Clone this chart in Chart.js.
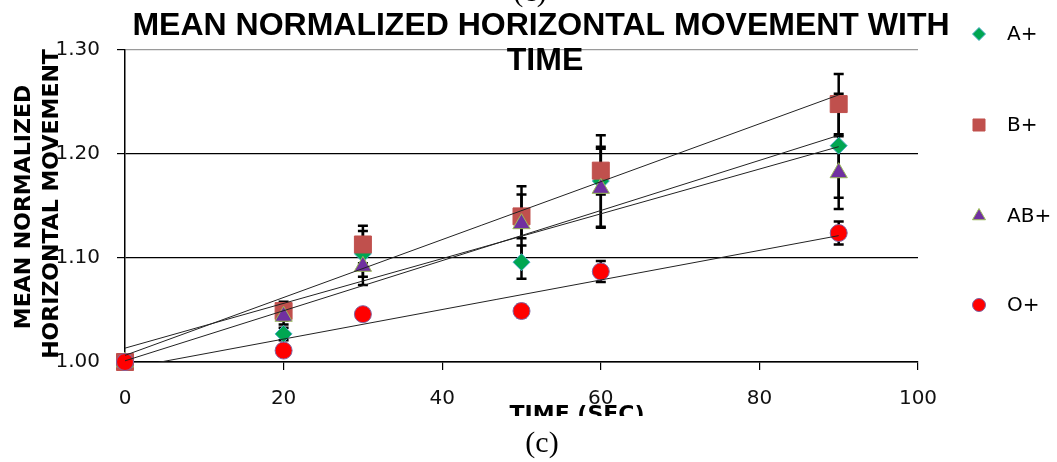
<!DOCTYPE html>
<html>
<head>
<meta charset="utf-8">
<script src="https://cdn.jsdelivr.net/npm/chart.js@4.4.1/dist/chart.umd.min.js"></script>
<style>
  html, body { margin: 0; padding: 0; background: #fff; }
  #wrap { position: relative; width: 1057px; height: 462px; }
</style>
</head>
<body>
<div id="wrap"><canvas id="moveChart"></canvas></div>
<script>
  // time points (sec)
  const times = [0, 20, 30, 50, 60, 90];

  // mean normalized horizontal movement per blood group
  const aPos  = [1.000, 1.027, 1.104, 1.096, 1.174, 1.208];
  const bPos  = [1.000, 1.049, 1.113, 1.140, 1.184, 1.248];
  const abPos = [1.000, 1.044, 1.092, 1.133, 1.167, 1.182];
  const oPos  = [1.000, 1.011, 1.046, 1.049, 1.087, 1.124];

  // error bar half-heights
  const aErr  = [0, 0.006, 0.022, 0.016, 0.044, 0.050];
  const bErr  = [0, 0.009, 0.018, 0.021, 0.023, 0.029];
  const abErr = [0, 0.008, 0.018, 0.036, 0.038, 0.035];
  const oErr  = [0, 0, 0, 0.006, 0.010, 0.011];

  const groupNames = ['A+', 'B+', 'AB+', 'O+'];
  const xTicks = [0, 20, 40, 60, 80, 100];
  const yTicks = [1.00, 1.10, 1.20, 1.30];

  const series = [
    { name: groupNames[0], y: aPos,  err: aErr,  style: 'rectRot',  r: 8.5, fill: '#00a651', line: '#4bacc6', lr: 6.5 },
    { name: groupNames[1], y: bPos,  err: bErr,  style: 'rect',     r: 12,  fill: '#c0504d', line: '#c0504d', lr: 8.5 },
    { name: groupNames[2], y: abPos, err: abErr, style: 'triangle', r: 10,  fill: '#7030a0', line: '#9bbb59', lr: 7.5 },
    { name: groupNames[3], y: oPos,  err: oErr,  style: 'circle',   r: 8.5, fill: '#ff0000', line: '#8064a2', lr: 6.5 }
  ];

  // least squares line over the points of one group
  function fitLine(xs, ys) {
    const n = xs.length;
    const mx = xs.reduce((s, v) => s + v, 0) / n;
    const my = ys.reduce((s, v) => s + v, 0) / n;
    let sxy = 0, sxx = 0;
    for (let i = 0; i < n; i++) {
      sxy += (xs[i] - mx) * (ys[i] - my);
      sxx += (xs[i] - mx) * (xs[i] - mx);
    }
    const slope = sxy / sxx;
    return { slope: slope, icpt: my - slope * mx };
  }

  const datasets = [];
  series.forEach((s, i) => {
    datasets.push({
      type: 'scatter',
      label: s.name,
      data: times.map((t, k) => ({ x: t, y: s.y[k] })),
      errors: s.err,
      pointStyle: s.style,
      pointRadius: s.r,
      pointHoverRadius: s.r,
      backgroundColor: s.fill,
      borderColor: s.line,
      borderWidth: 1,
      clip: false,
      order: 4 - i
    });
  });
  series.forEach(s => {
    const f = fitLine(times, s.y);
    const x0 = times[0], x1 = times[times.length - 1];
    datasets.push({
      type: 'line',
      label: s.name + ' fit',
      data: [{ x: x0, y: f.icpt + f.slope * x0 }, { x: x1, y: f.icpt + f.slope * x1 }],
      borderColor: '#222',
      borderWidth: 1,
      pointRadius: 0,
      fill: false,
      order: 0
    });
  });

  // vertical error bars with caps, under the markers
  const errorBars = {
    id: 'errorBars',
    beforeDatasetsDraw(chart) {
      const ctx = chart.ctx;
      const ys = chart.scales.y, xs = chart.scales.x;
      ctx.save();
      ctx.strokeStyle = '#000';
      ctx.lineWidth = 2.5;
      chart.data.datasets.forEach(ds => {
        if (!ds.errors) return;
        ds.data.forEach((p, k) => {
          const e = ds.errors[k];
          if (!e) return;
          const px = xs.getPixelForValue(p.x);
          const top = ys.getPixelForValue(p.y + e);
          const bot = ys.getPixelForValue(p.y - e);
          ctx.beginPath();
          ctx.moveTo(px, top); ctx.lineTo(px, bot);
          ctx.moveTo(px - 5, top); ctx.lineTo(px + 5, top);
          ctx.moveTo(px - 5, bot); ctx.lineTo(px + 5, bot);
          ctx.stroke();
        });
      });
      ctx.restore();
    }
  };

  // titles, caption and legend
  const labelsPlugin = {
    id: 'labels',
    afterDraw(chart) {
      const ctx = chart.ctx;
      ctx.save();
      ctx.fillStyle = '#000';
      ctx.textAlign = 'center';

      ctx.font = 'bold 32px "Liberation Sans", Arial, sans-serif';
      ctx.textBaseline = 'alphabetic';
      ctx.fillText('MEAN NORMALIZED HORIZONTAL MOVEMENT WITH', 541, 35);
      ctx.fillText('TIME', 545, 70);

      ctx.font = 'bold 22px "DejaVu Sans", sans-serif';
      ctx.textBaseline = 'middle';
      ctx.save();
      ctx.translate(24, 207);
      ctx.rotate(-Math.PI / 2);
      ctx.fillText('MEAN NORMALIZED', 0, 0);
      ctx.restore();
      ctx.save();
      ctx.translate(52, 204);
      ctx.rotate(-Math.PI / 2);
      ctx.fillText('HORIZONTAL MOVEMENT', 0, 0);
      ctx.restore();

      // axis title is cut off by the caption strip
      ctx.save();
      ctx.beginPath();
      ctx.rect(0, 0, 1057, 416);
      ctx.clip();
      ctx.textBaseline = 'alphabetic';
      ctx.fillText('TIME (SEC)', 577, 421);
      ctx.restore();

      ctx.font = '30px "Liberation Serif", "Times New Roman", serif';
      ctx.textBaseline = 'alphabetic';
      ctx.fillText('(c)', 542, 452);
      ctx.fillText('(c)', 530, 1);

      // legend
      const legendY = [34, 125, 216, 305];
      ctx.font = '20px "DejaVu Sans", sans-serif';
      ctx.textAlign = 'left';
      ctx.textBaseline = 'middle';
      series.forEach((s, i) => {
        ctx.fillStyle = s.fill;
        ctx.strokeStyle = s.line;
        ctx.lineWidth = 1;
        Chart.helpers.drawPoint(ctx, { pointStyle: s.style, radius: s.lr, rotation: 0, borderWidth: 1 }, 979, legendY[i]);
        ctx.fillStyle = '#000';
        ctx.fillText(s.name, 1007, legendY[i] + 1);
      });
      ctx.restore();
    }
  };

  Chart.defaults.font.family = '"DejaVu Sans", sans-serif';
  Chart.defaults.color = '#111';

  new Chart(document.getElementById('moveChart'), {
    type: 'scatter',
    data: { datasets: datasets },
    options: {
      responsive: true,
      maintainAspectRatio: false,
      animation: false,
      layout: { padding: { left: 0, right: 139, top: 50, bottom: 0 } },
      plugins: {
        legend: { display: false },
        title: { display: false },
        tooltip: { enabled: false }
      },
      scales: {
        x: {
          type: 'linear',
          min: xTicks[0],
          max: xTicks[xTicks.length - 1],
          afterBuildTicks: scale => { scale.ticks = xTicks.map(v => ({ value: v })); },
          afterFit: scale => { scale.height = 100; },
          border: { color: '#000', width: 1.5 },
          grid: { drawOnChartArea: false, drawTicks: true, tickLength: 8, color: '#000', lineWidth: 1.2 },
          ticks: { font: { size: 20 }, padding: 17, maxRotation: 0 }
        },
        y: {
          type: 'linear',
          min: yTicks[0],
          max: yTicks[yTicks.length - 1],
          afterBuildTicks: scale => { scale.ticks = yTicks.map(v => ({ value: v })); },
          afterFit: scale => { scale.width = 125; },
          border: { color: '#000', width: 1.5 },
          grid: {
            drawTicks: true,
            tickLength: 8,
            color: ctx => (ctx.tick && ctx.tick.value >= 1.295 ? '#9a9a9a' : '#000'),
            tickColor: '#000',
            lineWidth: 1.2
          },
          ticks: { font: { size: 20 }, padding: 17, callback: v => v.toFixed(2) }
        }
      }
    },
    plugins: [errorBars, labelsPlugin]
  });
</script>
</body>
</html>
